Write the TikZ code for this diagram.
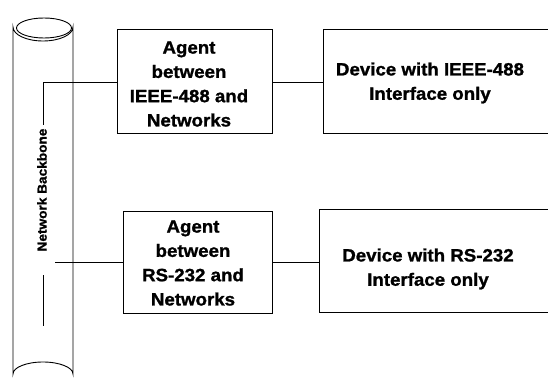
\documentclass[tikz,border=0pt]{standalone}
\usepackage{fontspec}
\setmainfont{Liberation Sans}[BoldFeatures={FakeBold=1.2, FakeStretch=1.05}]
\begin{document}
\begin{tikzpicture}[x=1pt,y=-1pt,
  line width=0.9pt,
  box/.style={draw, rectangle, inner sep=0pt},
  label/.style={align=center, font=\fontsize{17.8}{24.3}\selectfont\bfseries, inner sep=0pt},
  link/.style={draw}]
\useasboundingbox (0,0) rectangle (548,387);

% network backbone: a vertical pipe with an open top
\draw (13,27) arc[start angle=180, end angle=0, x radius=30, y radius=14]
      -- (73,374) arc[start angle=0, end angle=-180, x radius=30, y radius=12]
      -- cycle;
\draw (44,28) ellipse[x radius=27.5, y radius=10];
\node[font=\fontsize{13}{15}\selectfont\bfseries, rotate=90, inner sep=0pt] (bbtext) at (42,190) {Network Backbone};

% agents
\node[box, minimum width=155, minimum height=104] (agent1) at (194.5,81) {};
\node[label] (agent1t) at (189,84) {Agent\\between\\IEEE-488 and\\Networks};
\node[box, minimum width=149, minimum height=102] (agent2) at (197.5,262) {};
\node[label] (agent2t) at (193,263) {Agent\\between\\RS-232 and\\Networks};

% devices (running off the right edge)
\node[box, minimum width=240, minimum height=104] (dev1) at (443,81) {};
\node[label] (dev1t) at (430,83) {Device with IEEE-488\\Interface only};
\node[box, minimum width=244, minimum height=103] (dev2) at (441,260.5) {};
\node[label] (dev2t) at (428,269) {Device with RS-232\\Interface only};

% taps into the backbone
\coordinate (tap1) at (43,125);
\coordinate (tap1c) at (43,82);
\coordinate (tap2) at (55,262);
\coordinate (tap2a) at (43,275);
\coordinate (tap2b) at (43,326);
\draw[link] (tap1) -- (tap1c) -- (tap1c -| agent1.west);
\draw[link] (tap2) -- (tap2 -| agent2.west);
\draw[link] (tap2a) -- (tap2b);

% agents to devices
\draw[link] (agent1.east |- tap1c) -- (tap1c -| dev1.west);
\draw[link] (agent2.east |- tap2) -- (tap2 -| dev2.west);
\end{tikzpicture}
\end{document}
